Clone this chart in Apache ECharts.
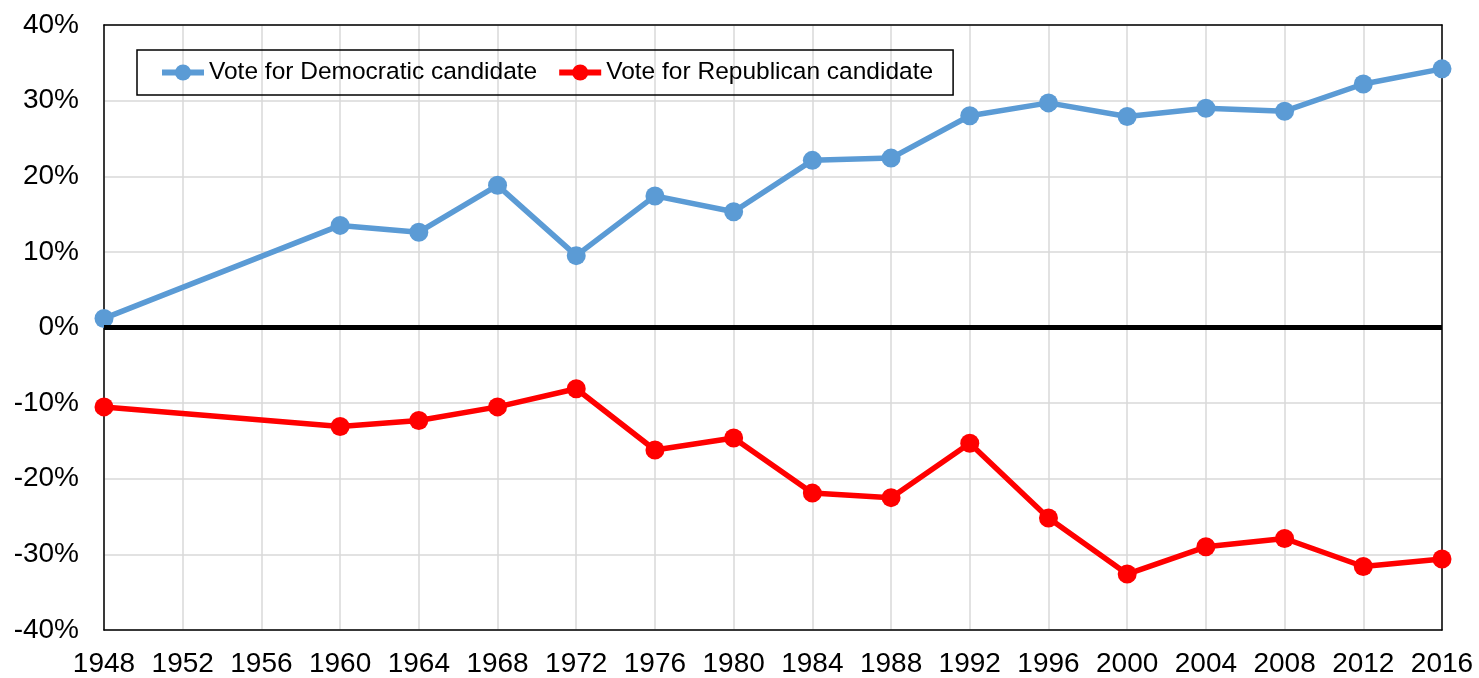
<!DOCTYPE html>
<html>
<head>
<meta charset="utf-8">
<script src="https://cdn.jsdelivr.net/npm/echarts@6/dist/echarts.min.js"></script>
<style>
  html, body { margin: 0; padding: 0; background: #fff; }
  #main { width: 1479px; height: 678px; }
</style>
</head>
<body>
<div id="main"></div>
<script>
const years = ['1948','1952','1956','1960','1964','1968','1972','1976','1980','1984','1988','1992','1996','2000','2004','2008','2012','2016'];
// percent margins, null where no value
const demVote = [1.2, null, null, 13.5, 12.6, 18.8, 9.5, 17.4, 15.3, 22.1, 22.4, 28.0, 29.7, 27.9, 29.0, 28.6, 32.2, 34.2];
const repVote = [-10.5, null, null, -13.1, -12.3, -10.5, -8.1, -16.2, -14.6, -21.9, -22.5, -15.3, -25.2, -32.6, -29.0, -27.9, -31.6, -30.6];

let myChart = echarts.init(document.getElementById('main'));

const font = 'Liberation Sans, Arial, sans-serif';
const frameLine = { show: true, onZero: false, lineStyle: { color: '#000', width: 1.5 } };

let option = {
  animation: false,
  backgroundColor: '#fff',
  grid: {
    left: 104,
    right: 37,
    top: 25,
    bottom: 48
  },
  legend: {
    left: 137,
    top: 50,
    itemWidth: 42,
    itemHeight: 20,
    itemGap: 19,
    padding: [10, 20, 10, 22],
    borderColor: '#000',
    borderWidth: 1.5,
    lineStyle: { width: 6 },
    textStyle: { fontFamily: font, fontSize: 24.5, color: '#000' },
    data: ['Vote for Democratic candidate', 'Vote for Republican candidate']
  },
  xAxis: [
    {
      type: 'category',
      data: years,
      boundaryGap: false,
      axisLine: frameLine,
      axisTick: { show: false },
      axisLabel: { fontFamily: font, fontSize: 28, color: '#000', margin: 20, interval: 0 },
      splitLine: { show: true, interval: 0, lineStyle: { color: '#d9d9d9', width: 1.5 } }
    },
    {
      type: 'category',
      data: years,
      position: 'top',
      boundaryGap: false,
      axisLine: frameLine,
      axisTick: { show: false },
      axisLabel: { show: false },
      splitLine: { show: false }
    }
  ],
  yAxis: [
    {
      type: 'value',
      min: -40,
      max: 40,
      interval: 10,
      axisLine: frameLine,
      axisTick: { show: false },
      axisLabel: {
        fontFamily: font, fontSize: 28, color: '#000', margin: 25,
        formatter: '{value}%'
      },
      splitLine: { lineStyle: { color: '#d9d9d9', width: 1.5 } }
    },
    {
      type: 'value',
      position: 'right',
      min: -40,
      max: 40,
      interval: 10,
      axisLine: frameLine,
      axisTick: { show: false },
      axisLabel: { show: false },
      splitLine: { show: false }
    }
  ],
  series: [
    {
      name: 'Vote for Democratic candidate',
      type: 'line',
      data: demVote,
      connectNulls: true,
      symbol: 'circle',
      symbolSize: 19,
      itemStyle: { color: '#5b9bd5' },
      lineStyle: { color: '#5b9bd5', width: 5.5 },
      z: 3
    },
    {
      name: 'Vote for Republican candidate',
      type: 'line',
      data: repVote,
      connectNulls: true,
      symbol: 'circle',
      symbolSize: 19,
      itemStyle: { color: '#ff0000' },
      lineStyle: { color: '#ff0000', width: 5.5 },
      z: 3,
      markLine: {
        silent: true,
        symbol: 'none',
        label: { show: false },
        lineStyle: { color: '#000', width: 5, type: 'solid' },
        data: [{ yAxis: 0 }]
      }
    }
  ]
};

option && myChart.setOption(option);
</script>
</body>
</html>
